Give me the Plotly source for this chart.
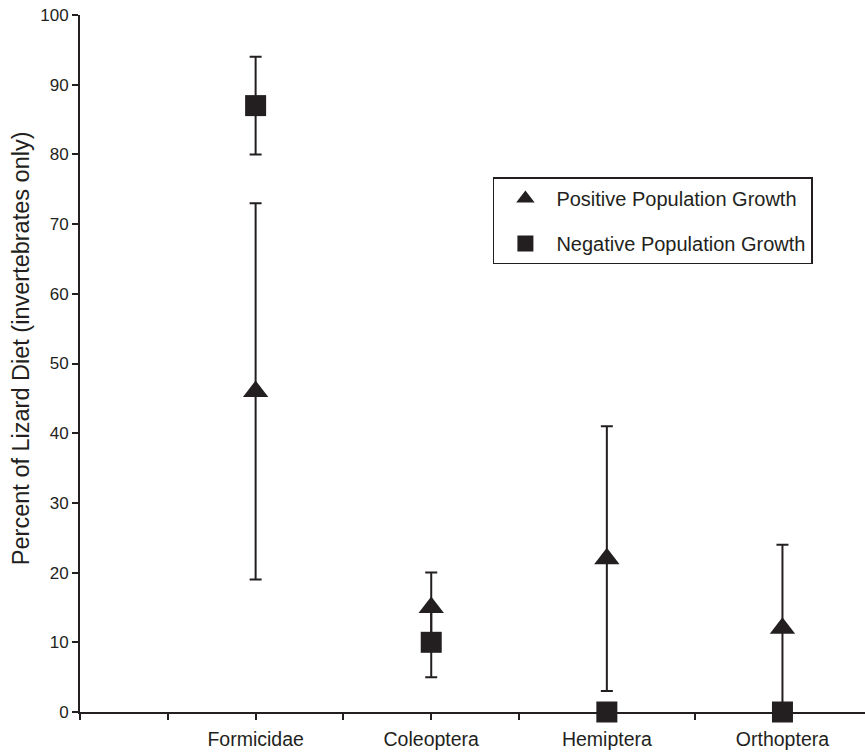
import plotly.graph_objects as go

categories = ["Formicidae", "Coleoptera", "Hemiptera", "Orthoptera"]
cat_pos = [1, 2, 3, 4]
positive_mean = [46, 15, 22, 12]
positive_err = [27, 5, 19, 12]
negative_mean = [87, 10, 0, 0]
negative_err = [7, 5, 0, 0]
y_ticks = [0, 10, 20, 30, 40, 50, 60, 70, 80, 90, 100]
y_title = "Percent of Lizard Diet (invertebrates only)"

ink = "#231f20"
font = "Liberation Sans, Arial, Helvetica, sans-serif"

fig = go.Figure()
fig.add_trace(go.Scatter(
    x=cat_pos, y=positive_mean, mode="markers", name="Positive Population Growth",
    legendgroup="a",
    marker=dict(symbol="triangle-up", size=22, color=ink),
    error_y=dict(type="data", array=positive_err, visible=True, color=ink,
                 thickness=2, width=6),
    cliponaxis=False,
))
fig.add_trace(go.Scatter(
    x=cat_pos, y=negative_mean, mode="markers", name="Negative Population Growth",
    legendgroup="b",
    marker=dict(symbol="square", size=21, color=ink),
    error_y=dict(type="data", array=negative_err, visible=True, color=ink,
                 thickness=2, width=6),
    cliponaxis=False,
))

xt = [i * 0.5 for i in range(10)]
xtext = [categories[int(v) - 1] if v in cat_pos else "" for v in xt]

fig.add_annotation(
    text=y_title, xref="paper", yref="paper", x=-0.0752, y=0.522,
    xanchor="center", yanchor="middle", textangle=-90, showarrow=False,
    font=dict(size=23.5, color=ink),
)

fig.update_layout(
    width=865, height=752,
    margin=dict(l=80, r=0, t=15, b=40, autoexpand=False),
    paper_bgcolor="white", plot_bgcolor="white",
    font=dict(family=font, color=ink),
    showlegend=True,
    legend=dict(
        x=0.526, y=0.767, xanchor="left", yanchor="top",
        bgcolor="white", bordercolor=ink, borderwidth=1.5,
        font=dict(size=20, color=ink), tracegroupgap=16,
        traceorder="grouped", itemwidth=52,
    ),
    xaxis=dict(
        range=[0, 4.47], tickvals=xt, ticktext=xtext,
        showline=True, linecolor=ink, linewidth=2,
        ticks="outside", ticklen=6, tickcolor=ink, tickwidth=1.5,
        showgrid=False, zeroline=False, automargin=False,
        tickfont=dict(size=19.5, color=ink), ticklabelstandoff=3,
    ),
    yaxis=dict(
        range=[0, 100], tickvals=y_ticks,
        showline=True, linecolor=ink, linewidth=2,
        ticks="outside", ticklen=6, tickcolor=ink, tickwidth=1.5,
        showgrid=False, zeroline=False, automargin=False,
        tickfont=dict(size=17, color=ink), ticklabeloverflow="allow",
    ),
)

fig.write_html("out.html",
               config={"displayModeBar": False},
               post_script="document.body.style.margin='0';document.body.style.overflow='hidden';")
